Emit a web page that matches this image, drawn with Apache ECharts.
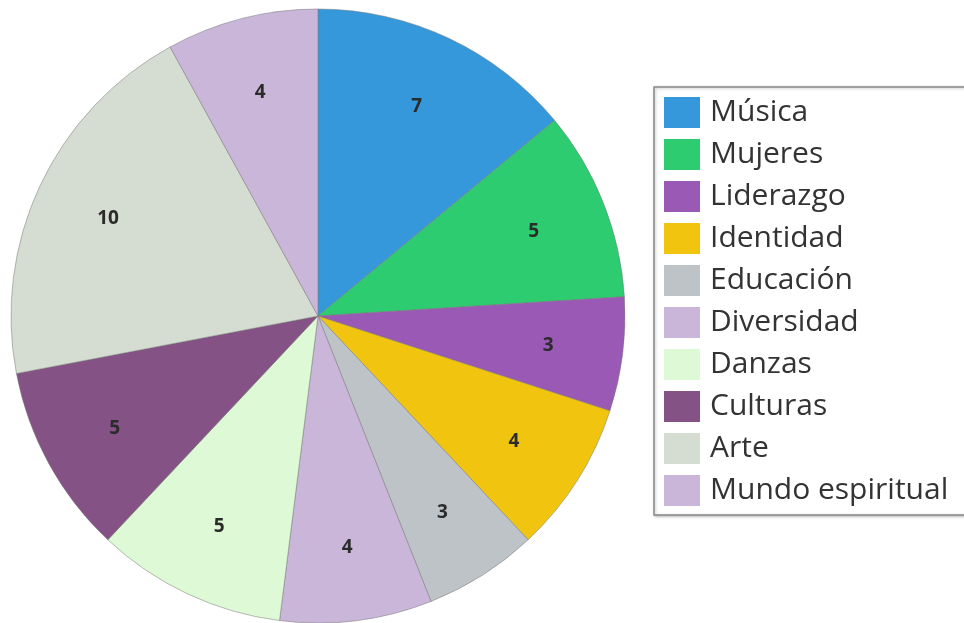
<!DOCTYPE html>
<html>
<head>
<meta charset="utf-8">
<script src="https://cdn.jsdelivr.net/npm/echarts@6/dist/echarts.min.js"></script>
<style>
  html, body { margin: 0; padding: 0; background: #fff; }
  #chart { width: 964px; height: 623px; }
</style>
</head>
<body>
<div id="chart"></div>
<script>
var categories = ['Música', 'Mujeres', 'Liderazgo', 'Identidad', 'Educación', 'Diversidad', 'Danzas', 'Culturas', 'Arte', 'Mundo espiritual']
var counts = [7, 5, 3, 4, 3, 4, 5, 5, 10, 4]
var colors = ['#3498db', '#2ecc71', '#9b59b6', '#f1c40f', '#bdc3c7', '#c9b6d8', '#ddf9d5', '#845284', '#d5ddd2', '#c9b6d8']

var chart = echarts.init(document.getElementById('chart'))
var pieData = categories.map(function (name, i) {
  return { name: name, value: counts[i], itemStyle: { color: colors[i] } }
})

// labels sit at roughly 3/4 of the radius, so they come from a transparent ring on top
var labelData = categories.map(function (name, i) {
  return { name: name, value: counts[i] }
})

var option = {
  animation: false,
  textStyle: { fontFamily: 'Open Sans' },
  legend: {
    orient: 'vertical',
    left: 654,
    top: 87,
    padding: [10, 30, 9, 10],
    icon: 'rect',
    itemWidth: 36,
    itemHeight: 31,
    itemGap: 11,
    borderColor: '#888',
    borderWidth: 1.5,
    shadowColor: 'rgba(0,0,0,0.25)',
    shadowBlur: 3,
    shadowOffsetX: 1,
    shadowOffsetY: 1,
    backgroundColor: '#fff',
    data: categories,
    itemStyle: { borderWidth: 0 },
    textStyle: { fontSize: 30, lineHeight: 31, color: '#333', fontFamily: 'Open Sans', padding: [0, 0, 0, 5] }
  },
  series: [
    {
      type: 'pie',
      center: [318, 316],
      radius: [0, 307],
      startAngle: 90,
      clockwise: true,
      data: pieData,
      label: { show: false },
      labelLine: { show: false },
      itemStyle: { borderColor: 'rgba(120,120,120,0.5)', borderWidth: 1 },
      emphasis: { disabled: true }
    },
    {
      type: 'pie',
      center: [318, 317],
      radius: [151, 307],
      startAngle: 90,
      clockwise: true,
      silent: true,
      legendHoverLink: false,
      data: labelData,
      itemStyle: { color: 'rgba(0,0,0,0)', borderWidth: 0 },
      label: {
        show: true,
        position: 'inside',
        formatter: '{c}',
        fontSize: 19,
        fontWeight: 'bold',
        color: '#2b2b2b',
        fontFamily: 'Open Sans'
      },
      labelLine: { show: false },
      emphasis: { disabled: true }
    }
  ]
}
chart.setOption(option, true)
</script>
</body>
</html>
